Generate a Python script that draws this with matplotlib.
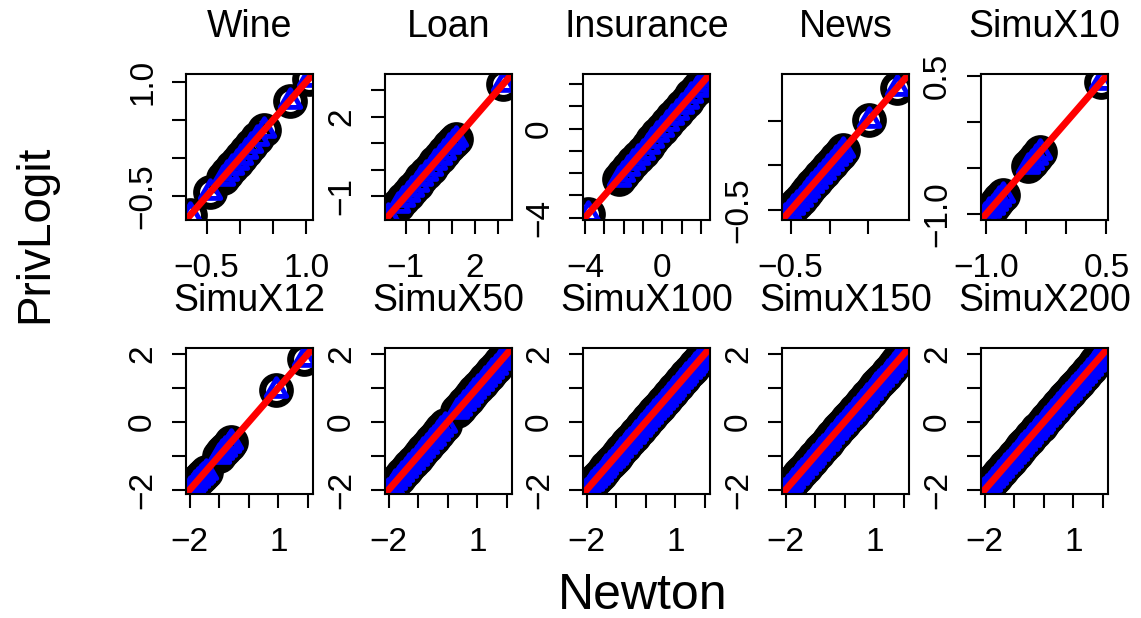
#!/usr/bin/env python3

"""
PrivLogit vs Newton coefficient estimates, one panel per dataset
"""

import matplotlib
matplotlib.use("Agg")
import matplotlib.pyplot as plt
from matplotlib.path import Path
from matplotlib.markers import MarkerStyle

plt.rcParams['font.family'] = ['Liberation Sans', 'DejaVu Sans']

# PrivLogit and Newton estimates coincide at plot resolution,
# so each dataset keeps one list of coefficients used on both axes
wine_coef = [-0.75, -0.45, -0.26, -0.19, -0.12, -0.05, 0.02, 0.09, 0.17, 0.26, 0.37, 0.75, 1.04]
loan_coef = [-1.75, -1.35, -1.12, -0.92, -0.72, -0.52, -0.32, -0.12, 0.08, 0.28, 0.48,
             0.68, 0.88, 1.05, 1.18, 3.25]
insurance_coef = [-3.85, -2.25, -2.02, -1.78, -1.52, -1.27, -1.03, -0.77, -0.52, -0.26,
                  -0.01, 0.24, 0.51, 0.74, 1.02, 1.26, 1.49, 1.77, 2.01, 2.24, 2.45]
news_coef = [-0.62, -0.57, -0.52, -0.47, -0.42, -0.37, -0.32, -0.27, -0.22, -0.17, -0.12,
             -0.07, -0.02, 0.03, 0.08, 0.13, 0.17, 0.51, 0.86]
simux10_coef = [-1.01, -0.96, -0.92, -0.88, -0.84, -0.79, -0.48, -0.43, -0.38, -0.33, 0.43]
simux12_coef = [-1.98, -1.89, -1.80, -1.72, -1.63, -1.55, -1.46, -1.01, -0.90, -0.79,
                -0.68, -0.60, 0.93, 1.85]
simux50_coef = [-2.25, -2.13, -2.02, -1.90, -1.77, -1.66, -1.54, -1.41, -1.30, -1.18,
                -1.05, -0.93, -0.82, -0.70, -0.57, -0.46, -0.34, -0.22, -0.10, 0.31,
                0.42, 0.55, 0.67, 0.78, 0.90, 1.03, 1.14, 1.27, 1.38, 1.50, 1.62, 1.75,
                1.86, 1.98, 2.10, 2.22, 2.34]
simux100_coef = [-2.41, -2.32, -2.22, -2.11, -2.02, -1.93, -1.81, -1.72, -1.63, -1.52,
                 -1.41, -1.33, -1.22, -1.11, -1.02, -0.93, -0.82, -0.71, -0.62, -0.53,
                 -0.41, -0.32, -0.21, -0.12, -0.03, 0.08, 0.17, 0.28, 0.37, 0.48, 0.57,
                 0.68, 0.79, 0.88, 0.97, 1.08, 1.19, 1.28, 1.37, 1.48, 1.59, 1.68, 1.77,
                 1.88, 1.99, 2.08, 2.19, 2.31, 2.42]
simux150_coef = [-2.43, -2.33, -2.24, -2.13, -2.04, -1.92, -1.83, -1.74, -1.62, -1.53,
                 -1.44, -1.32, -1.21, -1.12, -1.03, -0.91, -0.82, -0.73, -0.61, -0.52,
                 -0.43, -0.31, -0.22, -0.13, -0.02, 0.07, 0.18, 0.27, 0.36, 0.47, 0.58,
                 0.67, 0.76, 0.87, 0.98, 1.07, 1.16, 1.27, 1.38, 1.47, 1.56, 1.67, 1.78,
                 1.87, 1.96, 2.07, 2.18, 2.29, 2.40]
simux200_coef = [-2.42, -2.31, -2.23, -2.12, -2.01, -1.92, -1.82, -1.71, -1.62, -1.51,
                 -1.42, -1.31, -1.22, -1.12, -1.01, -0.92, -0.81, -0.72, -0.62, -0.51,
                 -0.42, -0.31, -0.22, -0.11, -0.02, 0.09, 0.18, 0.29, 0.38, 0.49, 0.58,
                 0.69, 0.78, 0.89, 0.98, 1.09, 1.18, 1.29, 1.38, 1.49, 1.58, 1.69, 1.78,
                 1.89, 1.98, 2.09, 2.18, 2.29, 2.41]

titles = ["Wine", "Loan", "Insurance", "News", "SimuX10",
          "SimuX12", "SimuX50", "SimuX100", "SimuX150", "SimuX200"]
coefs = [wine_coef, loan_coef, insurance_coef, news_coef, simux10_coef,
         simux12_coef, simux50_coef, simux100_coef, simux150_coef, simux200_coef]

row2_lim = (-2.12, 2.17)
limits = [(-0.81, 1.10), (-1.90, 3.62), (-4.10, 2.45), (-0.61, 1.02), (-1.065, 0.52),
          row2_lim, row2_lim, row2_lim, row2_lim, row2_lim]

row2_ticks = [-2, -1, 0, 1, 2]
ticks = [[-0.5, 0.0, 0.5, 1.0], [-1, 0, 1, 2, 3], [-4, -3, -2, -1, 0, 1, 2],
         [-0.5, 0.0, 0.5], [-1.0, -0.5, 0.0, 0.5],
         row2_ticks, row2_ticks, row2_ticks, row2_ticks, row2_ticks]

M = "\u2212"
row2_xlab = [M + "2", "", "", "1", ""]
row2_ylab = [M + "2", "", "0", "", "2"]
xlabels = [[M + "0.5", "", "", "1.0"], [M + "1", "", "", "2", ""],
           [M + "4", "", "", "", "0", "", ""], [M + "0.5", "", ""],
           [M + "1.0", "", "", "0.5"],
           row2_xlab, row2_xlab, row2_xlab, row2_xlab, row2_xlab]
ylabels = [[M + "0.5", "", "", "1.0"], [M + "1", "", "", "2", ""],
           [M + "4", "", "", "", "0", "", ""], [M + "0.5", "", ""],
           [M + "1.0", "", "", "0.5"],
           row2_ylab, row2_ylab, row2_ylab, row2_ylab, row2_ylab]

# equilateral open triangle like R's pch=2
tri = MarkerStyle(Path([(0, 1), (-0.866, -0.5), (0.866, -0.5), (0, 1)], closed=True),
                  joinstyle='round')

W, H = 1141, 618
fig = plt.figure(figsize=(W / 100, H / 100), dpi=100)

lefts = [186, 385, 583, 782, 981]
tops = [74, 348]
pw, ph = 127, 146

for i in range(10):
    r, c = divmod(i, 5)
    ax = fig.add_axes([lefts[c] / W, (H - tops[r] - ph) / H, pw / W, ph / H])
    x = coefs[i]
    ax.plot(x, x, 'o', ms=20, mfc='none', mec='black', mew=5)
    ax.plot(x, x, ls='none', marker=tri, ms=17, mfc='none', mec='blue', mew=3.5)
    ax.axline((0, 0), (1, 1), color='red', lw=5)
    ax.set_xlim(limits[i])
    ax.set_ylim(limits[i])
    ax.set_xticks(ticks[i])
    ax.set_xticklabels(xlabels[i])
    ax.set_yticks(ticks[i])
    ax.set_yticklabels(ylabels[i], rotation=90, va='center')
    ax.tick_params(axis='both', length=10, width=1.5, labelsize=24)
    ax.tick_params(axis='x', pad=14)
    ax.tick_params(axis='y', pad=10)
    for s in ax.spines.values():
        s.set_linewidth(1.5)
    fig.text((lefts[c] + pw / 2) / W, 1 - (tops[r] - 37) / H, titles[i],
             ha='center', va='baseline', fontsize=27)

fig.text(35 / W, 1 - 234 / H, "PrivLogit", rotation=90, ha='center', va='center', fontsize=33)
fig.text(643 / W, 1 - 609 / H, "Newton", ha='center', va='baseline', fontsize=36)

fig.savefig("out.png", dpi=100)
